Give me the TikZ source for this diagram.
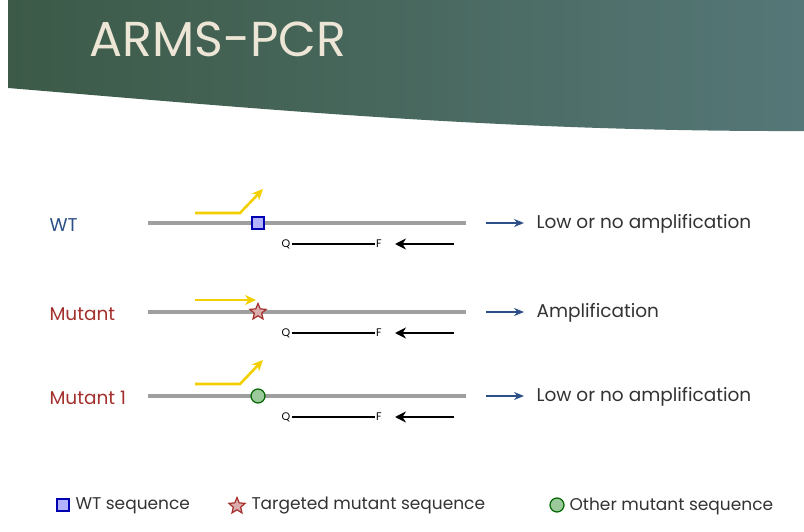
\documentclass[tikz,border=0pt]{standalone}
\usepackage{fontspec}
\setmainfont{Poppins}
\usetikzlibrary{shapes.geometric,arrows.meta}
\definecolor{gL}{HTML}{3C5A47}
\definecolor{gR}{HTML}{557777}
\definecolor{tb}{HTML}{2B4F86}
\definecolor{tr}{HTML}{A3302C}
\definecolor{yl}{HTML}{F2D000}
\definecolor{cream}{HTML}{EDE6D6}
\tikzset{
 dna/.style={line width=4.5pt,draw=gray!75},
 prim/.style={line width=2.6pt,draw=yl,-{Stealth[length=11pt,width=10pt]}},
 qf/.style={line width=2.2pt},
 rev/.style={line width=2.8pt,-{Stealth[length=11pt,width=11pt]}},
 res/.style={line width=1.5pt,draw=tb,-{Stealth[length=10pt,width=8pt]}},
 lbl/.style={anchor=west,font=\fontsize{18.5}{18.5}\selectfont,text=black!80},
 leg/.style={anchor=west,font=\fontsize{17}{17}\selectfont,text=black!80},
 small/.style={font=\fontsize{11}{11}\selectfont,inner sep=1pt},
 sq/.style={draw=blue!70!black,fill=blue!30,minimum size=12pt,inner sep=0,line width=1.2pt},
 st/.style={star,star points=5,star point ratio=2.2,draw=tr,fill=tr!40,minimum size=17pt,inner sep=0,line width=1.2pt},
 ci/.style={circle,draw=green!40!black,fill=green!30!gray!60,minimum size=14pt,inner sep=0,line width=1.2pt},
}
\begin{document}
\begin{tikzpicture}[x=1pt,y=-1pt]
\useasboundingbox (0,0) rectangle (804,532);
\shade[left color=gL,right color=gR] (8,0) -- (8,88) .. controls (250,108) and (500,132) .. (804,131) -- (804,0) -- cycle;
\node[anchor=west,text=cream,font=\fontsize{49}{49}\selectfont] (title) at (86,39) {ARMS-PCR};
\foreach \y/\n/\lab/\col/\res/\mk in {223/a/WT/tb/Low or no amplification/sq, 312/b/Mutant/tr/Amplification/st, 396/c/Mutant 1/tr/Low or no amplification/ci}{
 \node[lbl,text=\col] (lab\n) at (46,\y+2) {\lab};
 \coordinate (s\n) at (148,\y); \coordinate (e\n) at (466,\y);
 \draw[dna] (s\n) -- (e\n);
 \node[\mk] (m\n) at (258,\y) {};
 \node[small] (q\n) at (286,\y+21) {Q};
 \node[small] (f\n) at (379,\y+21) {F};
 \draw[qf] (q\n) -- (f\n);
 \coordinate (r1\n) at (454,\y+21); \coordinate (r2\n) at (395,\y+21);
 \draw[rev] (r1\n) -- (r2\n);
 \coordinate (a1\n) at (486,\y); \coordinate (a2\n) at (524,\y);
 \draw[res] (a1\n) -- (a2\n);
 \node[lbl] (t\n) at (533,\y+1) {\res};
}
\coordinate (p1) at (195,213); \coordinate (p2) at (240,213); \coordinate (p3) at (263,189);
\draw[prim] (p1) -- (p2) -- (p3);
\coordinate (p4) at (195,300); \coordinate (p5) at (256,300);
\draw[prim] (p4) -- (p5);
\coordinate (p6) at (195,384); \coordinate (p7) at (240,384); \coordinate (p8) at (263,360);
\draw[prim] (p6) -- (p7) -- (p8);
\node[sq] (l1) at (63,505) {};
\node[leg] (lt1) at (72,506) {WT sequence};
\node[st] (l2) at (237,506) {};
\node[leg] (lt2) at (248,506) {Targeted mutant sequence};
\node[ci] (l3) at (557,505) {};
\node[leg] (lt3) at (566,506) {Other mutant sequence};
\end{tikzpicture}
\end{document}
